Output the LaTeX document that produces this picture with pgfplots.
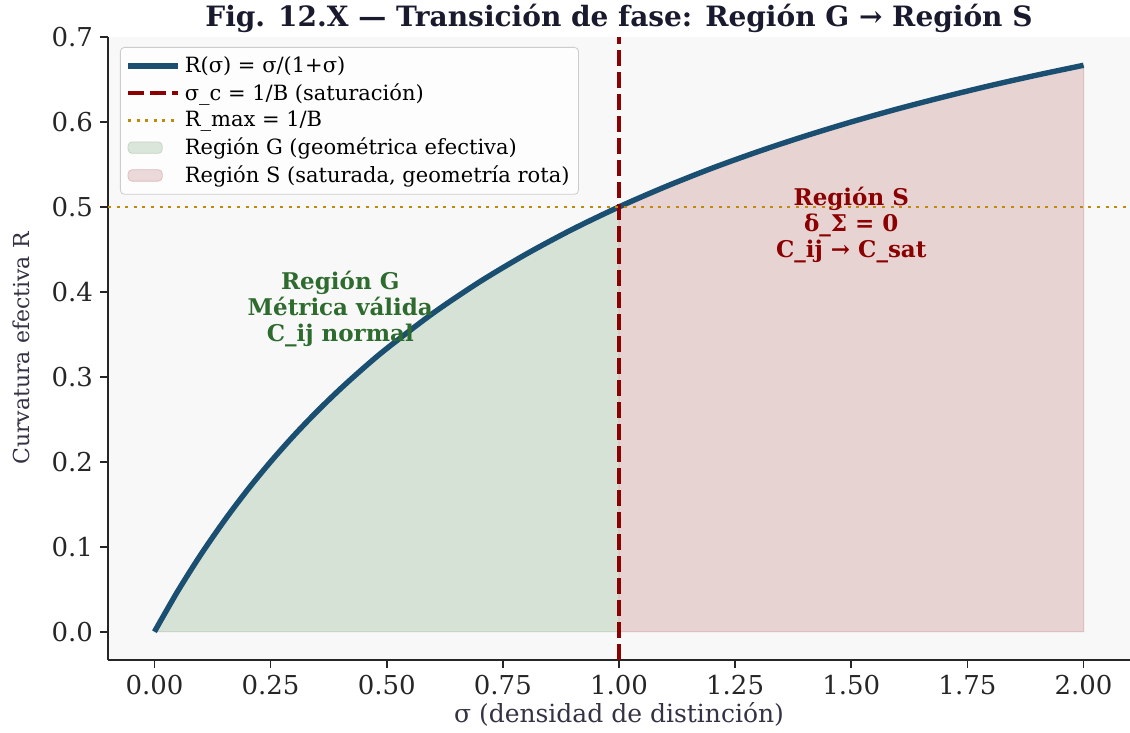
\documentclass[border=0pt]{standalone}
\usepackage{pgfplots}
\pgfplotsset{compat=1.18}
\usepackage{fontspec}
\setmainfont{DejaVu Serif}
\usetikzlibrary{calc}

\definecolor{curveblue}{HTML}{1B4F72}
\definecolor{satred}{HTML}{8B0000}
\definecolor{rgold}{HTML}{C08A0C}
\definecolor{fillG}{RGB}{214,226,214}
\definecolor{edgeG}{RGB}{196,214,196}
\definecolor{fillS}{RGB}{232,211,211}
\definecolor{edgeS}{RGB}{222,190,190}
\definecolor{txtG}{HTML}{2E6B2E}
\definecolor{titlecol}{HTML}{1A1A2E}
\definecolor{labcol}{HTML}{333344}
\definecolor{bgcol}{HTML}{F8F8F8}

\begin{document}
\begin{tikzpicture}
\begin{axis}[
    scale only axis,
    width=511pt, height=311.5pt,
    xmin=-0.1, xmax=2.1, ymin=-0.0333, ymax=0.7,
    axis x line*=bottom, axis y line*=left,
    axis line style={-, line width=1pt, black!85},
    axis background/.style={fill=bgcol},
    tick align=outside, tick style={black!85, line width=0.8pt},
    major tick length=4pt,
    xtick={0,0.25,...,2.0},
    ytick={0,0.1,...,0.7},
    xticklabel style={/pgf/number format/.cd, fixed, fixed zerofill, precision=2},
    yticklabel style={/pgf/number format/.cd, fixed, fixed zerofill, precision=1},
    /pgf/number format/assume math mode=true,
    ticklabel style={font=\fontsize{13}{15}\selectfont, text=black!85},
    xlabel={σ (densidad de distinción)},
    xlabel style={font=\fontsize{12.5}{15}\selectfont, text=labcol, yshift=3pt},
    title={Fig. 12.X — Transición de fase: Región G → Región S},
    title style={font=\fontsize{14}{16}\selectfont\bfseries, text=titlecol, at={(0.5,1)}, anchor=base, yshift=-1pt},
    legend style={at={(0,1)}, xshift=6pt, yshift=-5pt, anchor=north west, draw=black!20, fill=white, fill opacity=0.85, text opacity=1,
        rounded corners=2pt, font=\fontsize{10.5}{12}\selectfont, row sep=0pt, inner sep=2.5pt},
    legend cell align=left,
    legend image code/.code={\draw[#1] (0pt,0pt) -- (25pt,0pt);},
    clip=false,
]
% Region G fill
\addplot[fill=fillG, draw=edgeG, line width=0.5pt, forget plot] coordinates {
(0,0) (0.1,0.0909) (0.2,0.1667) (0.3,0.2308) (0.4,0.2857) (0.5,0.3333)
(0.6,0.3750) (0.7,0.4118) (0.8,0.4444) (0.9,0.4737) (1.0,0.5000)
} \closedcycle;
% Region S fill
\addplot[fill=fillS, draw=edgeS, line width=0.5pt, forget plot] coordinates {
(1.0,0.5000) (1.1,0.5238) (1.2,0.5455) (1.3,0.5652) (1.4,0.5833) (1.5,0.6000)
(1.6,0.6154) (1.7,0.6296) (1.8,0.6429) (1.9,0.6552) (2.0,0.6667)
} \closedcycle;
% curve
\addplot[curveblue, line width=2.7pt, smooth] coordinates {
(0,0) (0.05,0.0476) (0.1,0.0909) (0.15,0.1304) (0.2,0.1667) (0.25,0.2) (0.3,0.2308) (0.35,0.2593)
(0.4,0.2857) (0.45,0.3103) (0.5,0.3333) (0.6,0.3750) (0.7,0.4118) (0.8,0.4444) (0.9,0.4737)
(1.0,0.5000) (1.1,0.5238) (1.2,0.5455) (1.3,0.5652) (1.4,0.5833) (1.5,0.6000)
(1.6,0.6154) (1.7,0.6296) (1.8,0.6429) (1.9,0.6552) (2.0,0.6667)
};
\addlegendentry{R(σ) = σ/(1+σ)}
\addplot[satred, line width=2pt, dash pattern=on 8pt off 3pt] coordinates {(1,-0.0333) (1,0.7)};
\addlegendentry{σ\_c = 1/B (saturación)}
\addplot[rgold, line width=1.3pt, dash pattern=on 1.5pt off 2.8pt] coordinates {(-0.1,0.5) (2.1,0.5)};
\addlegendentry{R\_max = 1/B}
\addlegendimage{area legend, fill=fillG, draw=edgeG}
\addlegendentry{Región G (geométrica efectiva)}
\addlegendimage{area legend, fill=fillS, draw=edgeS}
\addlegendentry{Región S (saturada, geometría rota)}

\node[align=center, font=\fontsize{11.5}{13}\selectfont\bfseries, text=txtG] at (axis cs:0.4,0.38) {Región G\\Métrica válida\\C\_ij normal};
\node[align=center, font=\fontsize{11.5}{13}\selectfont\bfseries, text=satred] at (axis cs:1.5,0.479) {Región S\\δ\_Σ = 0\\C\_ij → C\_sat};
\coordinate (bl) at (axis description cs:0,0);
\coordinate (ml) at (axis description cs:0,0.5);
\coordinate (tr) at (axis description cs:1,1);
\end{axis}
\node[rotate=90, font=\fontsize{11}{13}\selectfont, text=labcol] at ($(ml)+(-43.5pt,0)$) {Curvatura efectiva R};
\pgfresetboundingbox
\path ($(bl)+(-54pt,-36.5pt)$) rectangle ($(tr)+(0,18.5pt)$);
\end{tikzpicture}
\end{document}
